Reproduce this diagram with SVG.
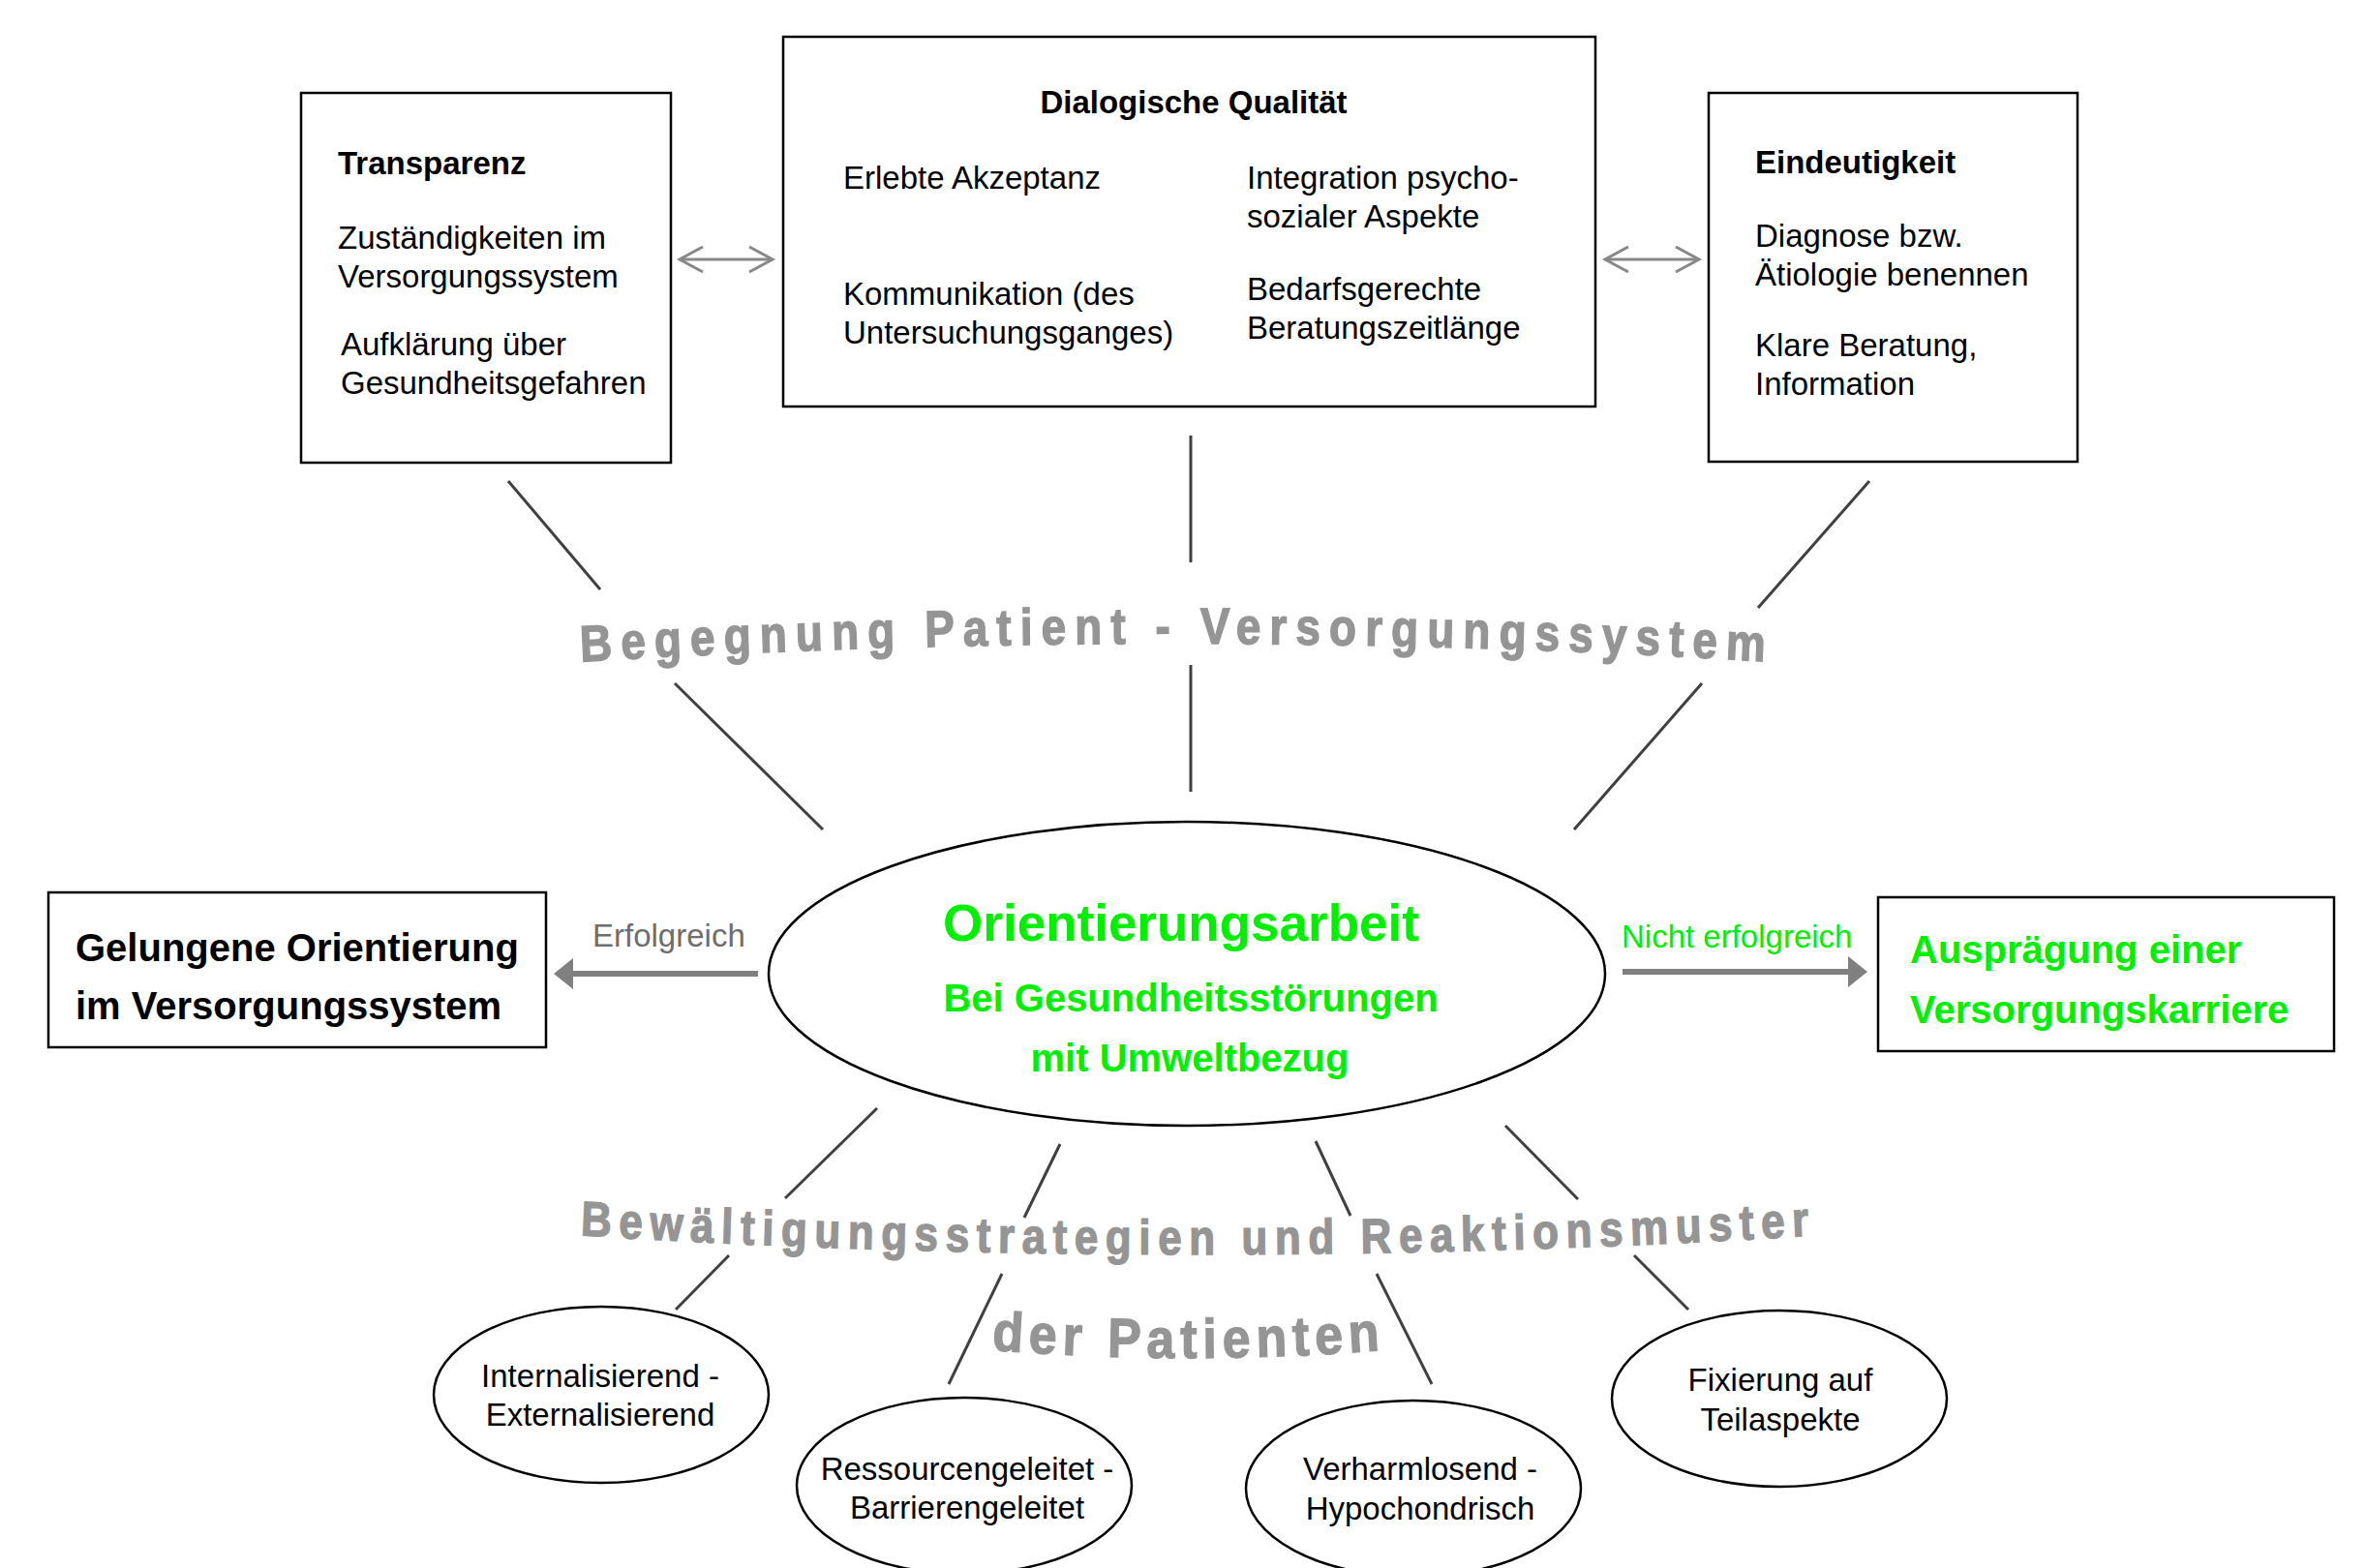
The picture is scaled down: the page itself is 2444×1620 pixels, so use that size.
<svg xmlns="http://www.w3.org/2000/svg" xmlns:xlink="http://www.w3.org/1999/xlink" width="2444" height="1620" viewBox="0 0 2444 1620">
<style>
.box{fill:#fff;stroke:#000;stroke-width:2.5}
.ell{fill:#fff;stroke:#000;stroke-width:2.5}
.t{font-family:"Liberation Sans",Arial,sans-serif;font-size:33px;fill:#000}
.b{font-weight:bold}
.g{fill:#00f000}
.big{font-size:40px}
.mid{text-anchor:middle}
.conn{stroke:#404040;stroke-width:3;fill:none}
.dbl{stroke:#888;stroke-width:3;fill:none;marker-start:url(#chev);marker-end:url(#chev)}
.fat{stroke:#808080;stroke-width:6;fill:none;marker-end:url(#tri)}
.arc{font-family:"Liberation Sans",Arial,sans-serif;font-weight:bold;fill:#959595;stroke:#959595;stroke-width:1.2}
</style>
<defs>
<marker id="chev" markerUnits="userSpaceOnUse" viewBox="-28 -16 32 32" refX="0" refY="0" markerWidth="32" markerHeight="32" orient="auto-start-reverse">
<path d="M-24,-13 L0,0 L-24,13" fill="none" stroke="#888" stroke-width="3"/>
</marker>
<marker id="tri" markerUnits="userSpaceOnUse" viewBox="-21 -17 22 34" refX="-20" refY="0" markerWidth="22" markerHeight="34" orient="auto">
<path d="M-20,-16 L0,0 L-20,16 Z" fill="#808080"/>
</marker>
<path id="arc1" d="M516,686.8 Q1216,644.5 1916,686.8"/>
<path id="arc2" d="M518,1273.5 Q1238,1316.9 1958,1273.5"/>
<path id="arc3" d="M928,1386.4 Q1228,1419.1 1528,1386.4"/>
</defs>
<rect width="2444" height="1620" fill="#fff"/>

<g id="connectors">
<line class="conn" x1="525" y1="497" x2="620" y2="609"/>
<line class="conn" x1="697" y1="706" x2="850" y2="857"/>
<line class="conn" x1="1230" y1="450" x2="1230" y2="581"/>
<line class="conn" x1="1230" y1="687" x2="1230" y2="818"/>
<line class="conn" x1="1931" y1="497" x2="1816" y2="628"/>
<line class="conn" x1="1758" y1="706" x2="1626" y2="857"/>
<line class="conn" x1="906" y1="1145" x2="811" y2="1238"/>
<line class="conn" x1="753" y1="1297" x2="698" y2="1353"/>
<line class="conn" x1="1095" y1="1182" x2="1058" y2="1258"/>
<line class="conn" x1="1035" y1="1316" x2="980" y2="1430"/>
<line class="conn" x1="1359" y1="1179" x2="1395" y2="1256"/>
<line class="conn" x1="1422" y1="1316" x2="1479" y2="1430"/>
<line class="conn" x1="1555" y1="1163" x2="1630" y2="1239"/>
<line class="conn" x1="1688" y1="1297" x2="1744" y2="1353"/>
<line class="dbl" x1="702" y1="268" x2="798" y2="268"/>
<line class="dbl" x1="1658" y1="268" x2="1755" y2="268"/>
<line class="fat" x1="783" y1="1006" x2="592" y2="1006"/>
<line class="fat" x1="1676" y1="1004" x2="1909" y2="1004"/>
<text class="t" x="612" y="978" style="fill:#6e6e6e">Erfolgreich</text>
<text class="t g" x="1675" y="979">Nicht erfolgreich</text>
</g>

<g id="labels-curved">
<g transform="matrix(1 0 0 1.15 0 -100.5)">
<text class="arc" font-size="46" letter-spacing="9"><textPath href="#arc1" xlink:href="#arc1" startOffset="50%" text-anchor="middle">Begegnung Patient - Versorgungssystem</textPath></text>
</g>
<g transform="matrix(1 0 0 1.15 0 -193.5)">
<text class="arc" font-size="44" letter-spacing="7.6"><textPath href="#arc2" xlink:href="#arc2" startOffset="50%" text-anchor="middle">Bewältigungsstrategien und Reaktionsmuster</textPath></text>
</g>
<g transform="matrix(1 0 0 1.1 0 -140)">
<text class="arc" font-size="52" letter-spacing="6"><textPath href="#arc3" xlink:href="#arc3" startOffset="50%" text-anchor="middle">der Patienten</textPath></text>
</g>
</g>

<g id="transparenz">
<rect class="box" x="311" y="96" width="382" height="382"/>
<text class="t b" x="349" y="180">Transparenz</text>
<text class="t" x="349" y="257">Zuständigkeiten im</text>
<text class="t" x="349" y="297">Versorgungssystem</text>
<text class="t" x="352" y="367">Aufklärung über</text>
<text class="t" x="352" y="407">Gesundheitsgefahren</text>
</g>

<g id="dialogische-qualitaet">
<rect class="box" x="809" y="38" width="839" height="382"/>
<text class="t b mid" x="1233" y="117">Dialogische Qualität</text>
<text class="t" x="871" y="195">Erlebte Akzeptanz</text>
<text class="t" x="871" y="315">Kommunikation (des</text>
<text class="t" x="871" y="355">Untersuchungsganges)</text>
<text class="t" x="1288" y="195">Integration psycho-</text>
<text class="t" x="1288" y="235">sozialer Aspekte</text>
<text class="t" x="1288" y="310">Bedarfsgerechte</text>
<text class="t" x="1288" y="350">Beratungszeitlänge</text>
</g>

<g id="eindeutigkeit">
<rect class="box" x="1765" y="96" width="381" height="381"/>
<text class="t b" x="1813" y="179">Eindeutigkeit</text>
<text class="t" x="1813" y="255">Diagnose bzw.</text>
<text class="t" x="1813" y="295">Ätiologie benennen</text>
<text class="t" x="1813" y="368">Klare Beratung,</text>
<text class="t" x="1813" y="408">Information</text>
</g>

<g id="orientierungsarbeit">
<ellipse class="ell" cx="1226" cy="1006" rx="432" ry="157"/>
<text class="t b g mid" x="1220" y="972" style="font-size:53px">Orientierungsarbeit</text>
<text class="t b g mid" x="1230" y="1045" style="font-size:40px">Bei Gesundheitsstörungen</text>
<text class="t b g mid" x="1229" y="1107" style="font-size:40px">mit Umweltbezug</text>
</g>

<g id="gelungene-orientierung">
<rect class="box" x="50" y="922" width="514" height="160"/>
<text class="t b big" x="78" y="993">Gelungene Orientierung</text>
<text class="t b big" x="78" y="1053">im Versorgungssystem</text>
</g>

<g id="versorgungskarriere">
<rect class="box" x="1940" y="927" width="471" height="159"/>
<text class="t b big g" x="1973" y="995">Ausprägung einer</text>
<text class="t b big g" x="1973" y="1057">Versorgungskarriere</text>
</g>

<g id="internalisierend">
<ellipse class="ell" cx="621" cy="1441" rx="173" ry="91"/>
<text class="t mid" x="620" y="1433">Internalisierend -</text>
<text class="t mid" x="620" y="1473">Externalisierend</text>
</g>

<g id="ressourcengeleitet">
<ellipse class="ell" cx="996" cy="1535" rx="173" ry="91"/>
<text class="t mid" x="999" y="1529">Ressourcengeleitet -</text>
<text class="t mid" x="999" y="1569">Barrierengeleitet</text>
</g>

<g id="verharmlosend">
<ellipse class="ell" cx="1460" cy="1538" rx="173" ry="91"/>
<text class="t mid" x="1467" y="1529">Verharmlosend -</text>
<text class="t mid" x="1467" y="1570">Hypochondrisch</text>
</g>

<g id="fixierung">
<ellipse class="ell" cx="1838" cy="1445" rx="173" ry="91"/>
<text class="t mid" x="1839" y="1437">Fixierung auf</text>
<text class="t mid" x="1839" y="1478">Teilaspekte</text>
</g>
</svg>
